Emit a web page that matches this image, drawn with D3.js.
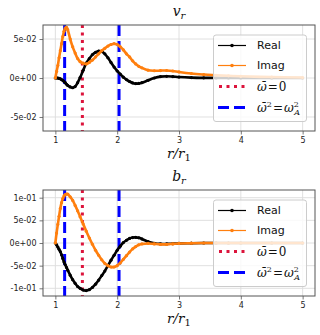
<!DOCTYPE html>
<html>
<head>
<meta charset="utf-8">
<script src="https://cdn.jsdelivr.net/npm/d3@7"></script>
<style>
  body { margin: 0; background: #fff; }
  svg { display: block; }
  .tick-label { font-family: "DejaVu Sans", sans-serif; font-size: 8px; fill: #222; }
  .math { font-family: "DejaVu Serif", serif; fill: #111; }
  .leg { font-family: "DejaVu Sans", sans-serif; font-size: 11px; fill: #111; }
</style>
</head>
<body>
<script>
// radial grid r/r1
var xGrid = [1.00, 1.02, 1.04, 1.06, 1.08, 1.10, 1.12, 1.14, 1.16, 1.18, 1.20, 1.24, 1.28, 1.32, 1.36, 1.40,
    1.45, 1.50, 1.55, 1.60, 1.65, 1.70, 1.75, 1.80, 1.85, 1.90, 1.95, 2.00, 2.05, 2.10, 2.15, 2.20,
    2.25, 2.30, 2.35, 2.40, 2.50, 2.60, 2.70, 2.80, 2.90, 3.00, 3.20, 3.40, 3.60, 3.80, 4.00, 4.50, 5.00];

var vrReal = [0, 0, 0, -0.0005, -0.001, -0.002, -0.003, -0.0045, -0.006, -0.008, -0.0095, -0.0115, -0.0125, -0.011, -0.006, 0.0005,
    0.010, 0.019, 0.025, 0.030, 0.033, 0.0345, 0.034, 0.031, 0.026, 0.020, 0.014, 0.009, 0.005, 0.001, -0.002, -0.0045,
    -0.0063, -0.0072, -0.007, -0.006, -0.003, 0.0, 0.0018, 0.0022, 0.0018, 0.0012, 0.0005, 0.0002, 0.0001, 0, 0, 0, 0];

var vrImag = [0, 0.0085, 0.016, 0.026, 0.035, 0.044, 0.053, 0.060, 0.064, 0.065, 0.062, 0.050, 0.040, 0.032, 0.025, 0.021,
    0.019, 0.018, 0.020, 0.023, 0.027, 0.031, 0.035, 0.038, 0.041, 0.043, 0.044, 0.043, 0.040, 0.036, 0.031, 0.027,
    0.022, 0.018, 0.015, 0.013, 0.010, 0.0093, 0.0095, 0.0096, 0.009, 0.0078, 0.0058, 0.0045, 0.0035, 0.0028, 0.0022, 0.0012, 0.0006];

var brReal = [0, -0.004, -0.009, -0.014, -0.019, -0.026, -0.034, -0.042, -0.048, -0.054, -0.060, -0.071, -0.081, -0.089, -0.096, -0.100,
    -0.104, -0.105, -0.103, -0.098, -0.091, -0.082, -0.072, -0.062, -0.050, -0.038, -0.027, -0.016, -0.007, 0.001, 0.006, 0.010,
    0.012, 0.0125, 0.0115, 0.009, 0.003, -0.0005, -0.002, -0.002, -0.0015, -0.001, -0.0004, 0, 0, 0, 0, 0, 0];

var brImag = [0, 0.022, 0.041, 0.059, 0.076, 0.089, 0.098, 0.104, 0.107, 0.108, 0.108, 0.102, 0.094, 0.083, 0.071, 0.058,
    0.042, 0.026, 0.011, -0.003, -0.016, -0.027, -0.037, -0.045, -0.050, -0.053, -0.053, -0.050, -0.044, -0.036, -0.028, -0.020,
    -0.013, -0.008, -0.004, -0.002, -0.001, -0.002, -0.003, -0.003, -0.002, -0.001, -0.0004, 0, 0, 0, 0, 0, 0];

var xTicks = [1, 2, 3, 4, 5];
var vrTicks = [-0.05, 0, 0.05];
var brTicks = [-0.1, -0.05, 0, 0.05, 0.1];

var omegaZero = [1.437];        // red dotted
var omegaAlfven = [1.15, 2.03]; // blue dashed

var width = 320, height = 335;
var left = 43, right = 315;

var svg = d3.select("body").append("svg")
    .attr("width", width)
    .attr("height", height);

var x = d3.scaleLinear().domain([0.8, 5.2]).range([left, right]);

// matplotlib "%.0e" style
function sci(v){
    if (v === 0) return "0e+00";
    var s = v.toExponential(0);
    var parts = s.split("e");
    var e = parseInt(parts[1]);
    var ex = (e < 0 ? "-" : "+") + (Math.abs(e) < 10 ? "0" : "") + Math.abs(e);
    return parts[0] + "e" + ex;
}

function drawPanel(top, bottom, ymax, yTicks, titleMain, titleSub, realVals, imagVals){
    var y = d3.scaleLinear().domain([-ymax, ymax]).range([bottom, top]);
    var g = svg.append("g");

    // grid
    g.append("g").selectAll("line").data(xTicks).enter().append("line")
        .attr("x1", d => x(d)).attr("x2", d => x(d))
        .attr("y1", top).attr("y2", bottom)
        .style("stroke", "#dcdcdc").style("stroke-width", 0.9);
    g.append("g").selectAll("line").data(yTicks).enter().append("line")
        .attr("x1", left).attr("x2", right)
        .attr("y1", d => y(d)).attr("y2", d => y(d))
        .style("stroke", "#dcdcdc").style("stroke-width", 0.9);

    // axes with tick labels
    var xAxis = d3.axisBottom(x).tickValues(xTicks).tickFormat(d3.format("d")).tickSize(3.5).tickPadding(2.5);
    var yAxis = d3.axisLeft(y).tickValues(yTicks).tickFormat(sci).tickSize(3.5).tickPadding(3);

    var gx = g.append("g").attr("transform", "translate(0," + bottom + ")").call(xAxis);
    var gy = g.append("g").attr("transform", "translate(" + left + ",0)").call(yAxis);
    [gx, gy].forEach(function(a){
        a.select(".domain").remove();
        a.selectAll(".tick line").style("stroke", "#555").style("stroke-width", 0.8);
        a.selectAll(".tick text").attr("class", "tick-label").attr("font-size", null).attr("font-family", null);
    });

    // vertical markers
    g.selectAll(".vdot").data(omegaZero).enter().append("line")
        .attr("class", "vdot")
        .attr("x1", d => x(d)).attr("x2", d => x(d))
        .attr("y1", top).attr("y2", bottom)
        .style("stroke", "#dc143c").style("stroke-width", 3)
        .style("stroke-dasharray", "3,4.5");
    g.selectAll(".vdash").data(omegaAlfven).enter().append("line")
        .attr("class", "vdash")
        .attr("x1", d => x(d)).attr("x2", d => x(d))
        .attr("y1", top).attr("y2", bottom)
        .style("stroke", "#0000ff").style("stroke-width", 3)
        .style("stroke-dasharray", "11,5");

    var line = d3.line()
        .x((d, i) => x(xGrid[i]))
        .y(d => y(d))
        .curve(d3.curveCatmullRom.alpha(0.5));

    [[realVals, "#000000"], [imagVals, "#ff7f0e"]].forEach(function(s){
        g.append("path")
            .datum(s[0])
            .attr("d", line)
            .style("fill", "none")
            .style("stroke", s[1])
            .style("stroke-width", 2.6)
            .style("stroke-linejoin", "round");
        g.append("g").selectAll("circle").data(s[0]).enter().append("circle")
            .attr("cx", (d, i) => x(xGrid[i]))
            .attr("cy", d => y(d))
            .attr("r", 1.6)
            .style("fill", s[1]);
    });

    // frame
    g.append("rect")
        .attr("x", left).attr("y", top)
        .attr("width", right - left).attr("height", bottom - top)
        .style("fill", "none").style("stroke", "#555").style("stroke-width", 1);

    // title
    var t = g.append("text").attr("class", "math")
        .attr("x", (left + right) / 2).attr("y", top - 9)
        .attr("text-anchor", "middle").style("font-size", "14px");
    t.append("tspan").style("font-style", "italic").text(titleMain);
    t.append("tspan").style("font-style", "italic").style("font-size", "10px")
        .attr("dy", 3).text(titleSub);

    // x label
    var xl = g.append("text").attr("class", "math")
        .attr("x", (left + right) / 2).attr("y", bottom + 27)
        .attr("text-anchor", "middle").style("font-size", "13.5px");
    xl.append("tspan").style("font-style", "italic").text("r/r");
    xl.append("tspan").style("font-size", "10px").attr("dy", 3).text("1");

    // legend
    var lx = 213.5, ly = top + 10, lw = 93, lh = 86.5;
    var leg = g.append("g");
    leg.append("rect")
        .attr("x", lx).attr("y", ly).attr("width", lw).attr("height", lh)
        .attr("rx", 2.5)
        .style("fill", "#ffffff").style("fill-opacity", 0.8)
        .style("stroke", "#cccccc").style("stroke-width", 1);

    var hx1 = 218, hx2 = 246, tx = 257;
    var rows = [ly + 10.5, ly + 30.5, ly + 51.5, ly + 72.5];

    [["Real", "#000000"], ["Imag", "#ff7f0e"]].forEach(function(s, i){
        leg.append("line").attr("x1", hx1).attr("x2", hx2)
            .attr("y1", rows[i]).attr("y2", rows[i])
            .style("stroke", s[1]).style("stroke-width", 1.2);
        leg.append("circle").attr("cx", (hx1 + hx2) / 2).attr("cy", rows[i]).attr("r", 1.8)
            .style("fill", s[1]);
        leg.append("text").attr("class", "leg")
            .attr("x", tx).attr("y", rows[i]).attr("dy", "0.36em").text(s[0]);
    });

    leg.append("line").attr("x1", hx1 + 1).attr("x2", hx2)
        .attr("y1", rows[2]).attr("y2", rows[2])
        .style("stroke", "#dc143c").style("stroke-width", 3)
        .style("stroke-dasharray", "3,4.5");
    leg.append("line").attr("x1", hx1).attr("x2", hx2)
        .attr("y1", rows[3]).attr("y2", rows[3])
        .style("stroke", "#0000ff").style("stroke-width", 3)
        .style("stroke-dasharray", "11,5");

    var m1 = leg.append("text").attr("class", "math")
        .attr("x", tx).attr("y", rows[2]).attr("dy", "0.36em").style("font-size", "12px");
    m1.append("tspan").style("font-style", "italic").text("\u03C9\u0304");
    m1.append("tspan").attr("dx", 1).text("=");
    m1.append("tspan").attr("dx", 1).text("0");

    var m2 = leg.append("text").attr("class", "math")
        .attr("x", tx).attr("y", rows[3]).attr("dy", "0.36em").style("font-size", "12px");
    m2.append("tspan").style("font-style", "italic").text("\u03C9\u0304");
    m2.append("tspan").style("font-size", "8px").attr("dy", -5).text("2");
    m2.append("tspan").attr("dy", 5).attr("dx", 1).text("=");
    m2.append("tspan").attr("dx", 1).style("font-style", "italic").text("\u03C9");
    m2.append("tspan").style("font-size", "8px").attr("dy", -5).text("2");
    m2.append("tspan").style("font-size", "8px").style("font-style", "italic")
        .attr("dx", -4.5).attr("dy", 8.5).text("A");
}

drawPanel(25, 131, 0.068, vrTicks, "v", "r", vrReal, vrImag);
drawPanel(190, 296, 0.117, brTicks, "b", "r", brReal, brImag);
</script>
</body>
</html>
